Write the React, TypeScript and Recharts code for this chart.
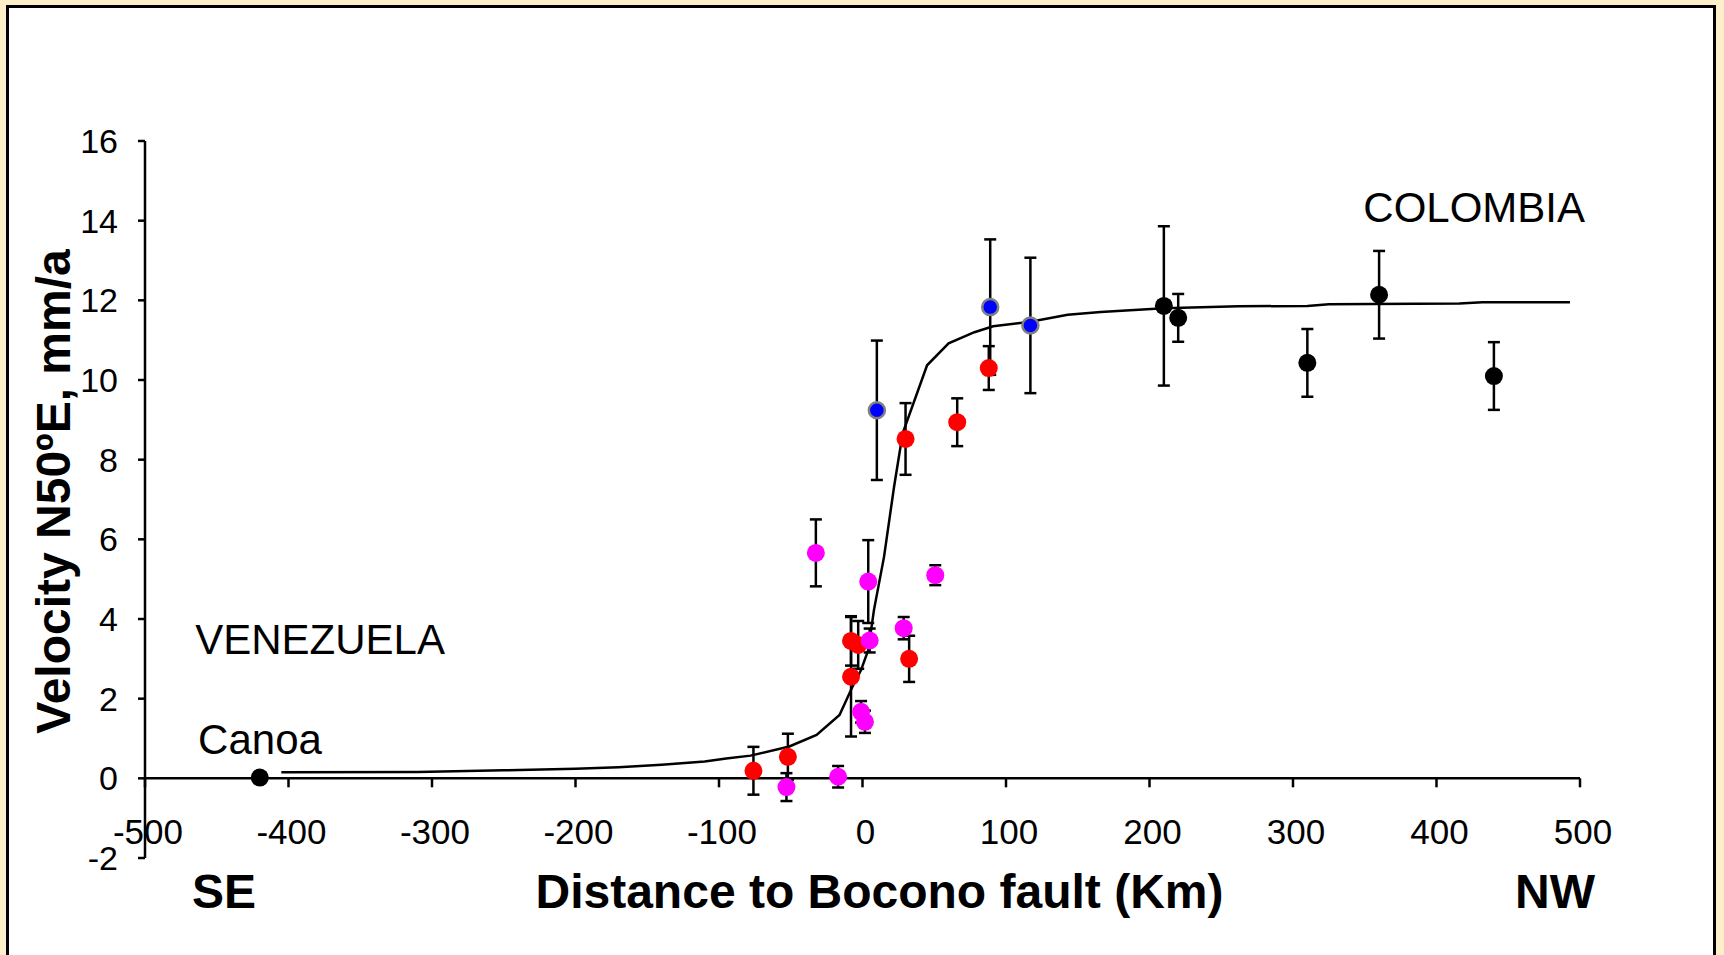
import React from 'react';
import {
  ComposedChart,
  Scatter,
  Line,
  XAxis,
  YAxis,
  ErrorBar,
  ReferenceLine,
  ReferenceDot,
} from 'recharts';

const FONT = '"Liberation Sans", Arial, Helvetica, sans-serif';

// axis ticks
const xTicks = [-500, -400, -300, -200, -100, 0, 100, 200, 300, 400, 500];
const yTicks = [-2, 0, 2, 4, 6, 8, 10, 12, 14, 16];

// Canoa station
const canoaX = [-420];
const canoaY = [0.02];

// Colombia stations (black)
const blackX = [210, 220, 310, 360, 440];
const blackY = [11.86, 11.56, 10.43, 12.14, 10.1];
const blackErr = [2.0, 0.6, 0.85, 1.1, 0.85];

// blue stations
const blueX = [10, 89, 117];
const blueY = [9.24, 11.83, 11.37];
const blueErr = [1.75, 1.7, 1.7];

// red stations
const redX = [-76, -52, -8, -3, -8, 30, 32.5, 66, 88];
const redY = [0.19, 0.54, 3.45, 3.35, 2.55, 8.52, 3.0, 8.94, 10.3];
const redErr = [0.6, 0.58, 0.62, 0.6, 1.5, 0.9, 0.58, 0.6, 0.55];

// magenta stations
const magX = [-32.5, 4, 5, -1, 1.7, -53, -17, 28.7, 50.7];
const magY = [5.66, 4.94, 3.46, 1.67, 1.42, -0.22, 0.04, 3.77, 5.1];
const magErr = [0.84, 1.04, 0.3, 0.27, 0.28, 0.35, 0.27, 0.28, 0.25];

// model curve
const curveX = [
  -405, -310, -250, -200, -170, -140, -110, -95, -78, -51, -32, -16, -7, -1, 4, 8,
  15, 22, 28, 45, 60, 78, 91, 117, 143, 166, 210, 262, 310, 325, 416, 432, 493,
];
const curveY = [
  0.15, 0.16, 0.2, 0.24, 0.28, 0.34, 0.42, 0.5, 0.57, 0.8, 1.09, 1.59, 2.3, 2.72, 3.22, 4.23,
  5.56, 7.32, 8.66, 10.37, 10.92, 11.2, 11.35, 11.46, 11.64, 11.71, 11.8, 11.85, 11.86, 11.9,
  11.92, 11.95, 11.95,
];

// in-plot annotations
const noteText = ['VENEZUELA', 'Canoa', 'COLOMBIA'];
const noteX = [-465, -463, 349];
const noteY = [3.12, 0.62, 13.97];

const W = 1724;
const H = 955;
const MARGIN = { top: 141, right: 144, bottom: 96, left: 144 };
const PLOT_H = H - MARGIN.top - MARGIN.bottom - 1;
const Y_MIN = -2;
const Y_MAX = 16;
const ZERO_UP = (PLOT_H * (0 - Y_MIN)) / (Y_MAX - Y_MIN);

const zip = (xs: number[], ys: number[], es?: number[]) =>
  xs.map((x, i) => ({ x, y: ys[i], err: es ? es[i] : 0 }));

const canoaData = zip(canoaX, canoaY);
const blackData = zip(blackX, blackY, blackErr);
const blueData = zip(blueX, blueY, blueErr);
const redData = zip(redX, redY, redErr);
const magData = zip(magX, magY, magErr);
const curveData = zip(curveX, curveY);

const dot = (fill: string, stroke = 'none', sw = 0, r = 9) => (p: any) =>
  <circle cx={p.cx} cy={p.cy} r={r} fill={fill} stroke={stroke} strokeWidth={sw} />;

// x ticks sit on the zero line, labels below it
const XTick = (p: any) => {
  const zy = p.y - ZERO_UP;
  return (
    <g>
      <line x1={p.x} x2={p.x} y1={zy} y2={zy + 9} stroke="#000" strokeWidth={2.5} />
      <text x={p.x + 3} y={p.y - 14} textAnchor="middle" fontSize={35} fontFamily={FONT} fill="#000">
        {p.payload.value}
      </text>
    </g>
  );
};

const XTitle = (p: any) => {
  const vb = p.viewBox;
  const y = vb.y + 50;
  const style = { fontSize: 48, fontWeight: 'bold' as const, fontFamily: FONT, fill: '#000' };
  return (
    <g>
      <text x={vb.x + 47} y={y} textAnchor="start" {...style}>SE</text>
      <text x={vb.x + vb.width / 2 + 17} y={y} textAnchor="middle" {...style}>
        Distance to Bocono fault (Km)
      </text>
      <text x={vb.x + vb.width + 15} y={y} textAnchor="end" {...style}>NW</text>
    </g>
  );
};

const YTitle = (p: any) => {
  const vb = p.viewBox;
  const x = vb.x - 74;
  const y = vb.y + vb.height / 2 - 8;
  return (
    <text
      x={x}
      y={y}
      transform={`rotate(-90 ${x} ${y})`}
      textAnchor="middle"
      fontSize={48}
      fontWeight="bold"
      fontFamily={FONT}
      fill="#000"
    >
      Velocity N50ºE, mm/a
    </text>
  );
};

const Note = (p: any) => (
  <text x={p.viewBox.x} y={p.viewBox.y} fontSize={42} fontFamily={FONT} fill="#000">
    {p.text}
  </text>
);

export default function App() {
  return (
    <div style={{ position: 'fixed', left: 0, top: 0, width: W, height: H, background: '#FCEFC9', overflow: 'hidden' }}>
      <div
        style={{
          position: 'absolute',
          left: 6,
          top: 5,
          width: 1710,
          height: 1000,
          boxSizing: 'border-box',
          border: '3px solid #000',
          background: '#fff',
        }}
      />
      <div style={{ position: 'absolute', left: 0, top: 0 }}>
        <ComposedChart width={W} height={H} margin={MARGIN}>
          <XAxis
            type="number"
            dataKey="x"
            domain={[-500, 500]}
            ticks={xTicks}
            interval={0}
            height={1}
            axisLine={false}
            tickLine={false}
            tickSize={0}
            tickMargin={0}
            tick={<XTick />}
            label={<XTitle />}
          />
          <YAxis
            type="number"
            dataKey="y"
            domain={[Y_MIN, Y_MAX]}
            ticks={yTicks}
            interval={0}
            width={1}
            axisLine={{ stroke: '#000', strokeWidth: 2.5 }}
            tickLine={{ stroke: '#000', strokeWidth: 2.5 }}
            tickSize={7}
            tickMargin={20}
            tick={{ fontSize: 34, fontFamily: FONT, fill: '#000' }}
            label={<YTitle />}
          />
          <ReferenceLine y={0} stroke="#000" strokeWidth={2.5} />
          <Line
            data={curveData}
            dataKey="y"
            type="linear"
            stroke="#000"
            strokeWidth={2.5}
            dot={false}
            activeDot={false}
            isAnimationActive={false}
          />
          <Scatter data={canoaData} shape={dot('#000')} isAnimationActive={false} />
          <Scatter data={blackData} shape={dot('#000')} isAnimationActive={false}>
            <ErrorBar dataKey="err" direction="y" width={6} stroke="#000" strokeWidth={2.5} />
          </Scatter>
          <Scatter data={blueData} shape={dot('#0000FF', '#808080', 2.5, 8)} isAnimationActive={false}>
            <ErrorBar dataKey="err" direction="y" width={6} stroke="#000" strokeWidth={2.5} />
          </Scatter>
          <Scatter data={redData} shape={dot('#FF0000')} isAnimationActive={false}>
            <ErrorBar dataKey="err" direction="y" width={6} stroke="#000" strokeWidth={2.5} />
          </Scatter>
          <Scatter data={magData} shape={dot('#FF00FF')} isAnimationActive={false}>
            <ErrorBar dataKey="err" direction="y" width={6} stroke="#000" strokeWidth={2.5} />
          </Scatter>
          {noteText.map((t, i) => (
            <ReferenceDot
              key={t}
              x={noteX[i]}
              y={noteY[i]}
              r={0}
              fill="none"
              stroke="none"
              label={<Note text={t} />}
            />
          ))}
        </ComposedChart>
      </div>
    </div>
  );
}
